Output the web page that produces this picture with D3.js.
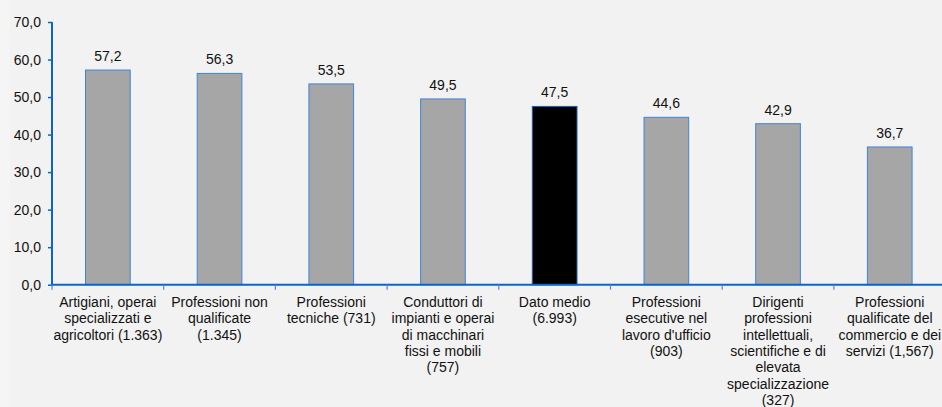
<!DOCTYPE html>
<html>
<head>
<meta charset="utf-8">
<script src="https://cdn.jsdelivr.net/npm/d3@7"></script>
<style>
  html, body { margin: 0; padding: 0; background: #f2f2f2; }
  svg { display: block; font-family: "Liberation Sans", Arial, sans-serif; }
</style>
</head>
<body>
<svg id="chart" width="942" height="407"></svg>
<script>
const categories = [
  ["Artigiani, operai", "specializzati e", "agricoltori (1.363)"],
  ["Professioni non", "qualificate", "(1.345)"],
  ["Professioni", "tecniche (731)"],
  ["Conduttori di", "impianti e operai", "di macchinari", "fissi e mobili", "(757)"],
  ["Dato medio", "(6.993)"],
  ["Professioni", "esecutive nel", "lavoro d'ufficio", "(903)"],
  ["Dirigenti", "professioni", "intellettuali,", "scientifiche e di", "elevata", "specializzazione", "(327)"],
  ["Professioni", "qualificate del", "commercio e dei", "servizi (1,567)"]
];
const values = [57.2, 56.3, 53.5, 49.5, 47.5, 44.6, 42.9, 36.7];
const highlight = [false, false, false, false, true, false, false, false];
const yTicks = [0, 10, 20, 30, 40, 50, 60, 70];

const svg = d3.select("#chart");
svg.append("rect").attr("x", 0).attr("y", 0).attr("width", 10).attr("height", 407).attr("fill", "#f5f5f5");

const x0 = 52, bandW = 111.7;
const x = d3.scaleBand().domain(d3.range(categories.length))
  .range([x0, x0 + bandW * categories.length]).paddingInner(0).paddingOuter(0);
const y = d3.scaleLinear().domain([0, 70]).range([284.7, 22]);
const fmt = v => d3.format(".1f")(v).replace(".", ",");

const barW = x.bandwidth() * 0.4;
svg.selectAll("rect.bar").data(values).enter().append("rect")
  .attr("class", "bar")
  .attr("x", (d, i) => x(i) + (x.bandwidth() - barW) / 2)
  .attr("y", d => y(d))
  .attr("width", barW)
  .attr("height", d => y(0) - y(d))
  .attr("fill", (d, i) => highlight[i] ? "#000000" : "#a6a6a6")
  .attr("stroke", (d, i) => highlight[i] ? "#1f5fb0" : "#3f84d8")
  .attr("stroke-width", 1);

svg.selectAll("text.val").data(values).enter().append("text")
  .attr("class", "val")
  .attr("x", (d, i) => x(i) + x.bandwidth() / 2)
  .attr("y", d => y(d) - 9)
  .attr("text-anchor", "middle")
  .attr("font-size", 14)
  .attr("fill", "#111")
  .text(fmt);

// Y axis
const yAxis = d3.axisLeft(y).tickValues(yTicks).tickFormat(fmt).tickSize(4).tickPadding(7);
const gy = svg.append("g").attr("transform", `translate(${x0},0)`).call(yAxis);
gy.select(".domain").attr("stroke", "#0a66cc").attr("stroke-width", 2).attr("d", `M0,${y(70)}V${y(0)}`);
gy.selectAll(".tick line").attr("stroke", "#0a66cc").attr("stroke-width", 1.5);
gy.selectAll(".tick text").attr("font-size", 14).attr("fill", "#111").attr("font-family", "Liberation Sans, Arial, sans-serif");

// X axis
const gx = svg.append("g").attr("transform", `translate(0,${y(0)})`);
gx.append("line").attr("x1", x0 - 1).attr("x2", 942).attr("y1", 0).attr("y2", 0)
  .attr("stroke", "#0a66cc").attr("stroke-width", 2);
gx.selectAll("line.tk").data(d3.range(categories.length + 1)).enter().append("line")
  .attr("class", "tk")
  .attr("x1", i => x0 + i * x.step()).attr("x2", i => x0 + i * x.step())
  .attr("y1", 0).attr("y2", 5)
  .attr("stroke", "#4a8ad8").attr("stroke-width", 1.2);

const labels = svg.append("g");
categories.forEach((lines, i) => {
  const t = labels.append("text")
    .attr("text-anchor", "middle")
    .attr("font-size", 14)
    .attr("fill", "#111");
  lines.forEach((ln, j) => {
    t.append("tspan")
      .attr("x", x(i) + x.bandwidth() / 2)
      .attr("y", 307 + j * 16.3)
      .text(ln);
  });
});
</script>
</body>
</html>
